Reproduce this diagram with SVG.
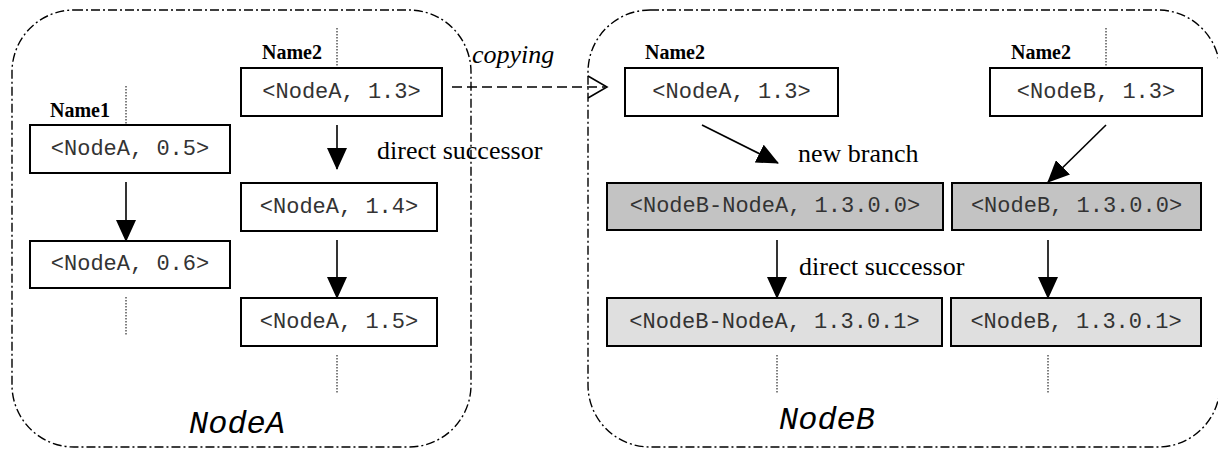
<svg xmlns="http://www.w3.org/2000/svg" width="1218" height="450" viewBox="0 0 1218 450">
<style>
.cont{fill:none;stroke:#000;stroke-width:1.4;stroke-dasharray:9 3 2 3}
.box{fill:#fff;stroke:#000;stroke-width:2}
.g1{fill:#c3c3c3;stroke:#000;stroke-width:2}
.g2{fill:#dfdfdf;stroke:#000;stroke-width:2}
.mono{font-family:"Liberation Mono","Courier New",monospace;font-size:22px;fill:#333;text-anchor:middle}
.name{font-family:"Liberation Serif","Times New Roman",serif;font-weight:bold;font-size:20px;fill:#000}
.lbl{font-family:"Liberation Serif","Times New Roman",serif;font-size:26px;fill:#000}
.big{font-family:"Liberation Mono","Courier New",monospace;font-style:italic;font-size:32px;fill:#000}
.arr{stroke:#000;stroke-width:1.6;fill:none;marker-end:url(#ah)}
.dot{stroke:#000;stroke-width:1;stroke-dasharray:1.5 1.5;fill:none}
.dash{stroke:#000;stroke-width:1.6;stroke-dasharray:10 5;fill:none}
</style>
<defs>
<marker id="ah" markerUnits="userSpaceOnUse" markerWidth="22" markerHeight="20" viewBox="0 0 22 20" refX="21" refY="10" orient="auto">
<path d="M0,0 L22,10 L0,20 z" fill="#000"/>
</marker>
</defs>
<g id="NodeA">
<rect class="cont" x="12" y="10" width="459" height="437" rx="62" ry="62"/>
<text class="big" x="189" y="433">NodeA</text>
</g>
<g id="NodeB">
<rect class="cont" x="588" y="10" width="632" height="437" rx="62" ry="62"/>
<text class="big" x="779" y="429">NodeB</text>
</g>
<g id="name1"><text class="name" x="50" y="117">Name1</text></g>
<g id="name2a"><text class="name" x="262" y="59">Name2</text></g>
<g id="name2b"><text class="name" x="645" y="59">Name2</text></g>
<g id="name2c"><text class="name" x="1011" y="59">Name2</text></g>
<g id="A05"><rect class="box" x="30" y="125" width="200" height="48"/><text class="mono" x="130" y="155">&lt;NodeA, 0.5&gt;</text></g>
<g id="A06"><rect class="box" x="30" y="241" width="200" height="47"/><text class="mono" x="130" y="270">&lt;NodeA, 0.6&gt;</text></g>
<g id="A13"><rect class="box" x="241" y="68" width="201" height="48"/><text class="mono" x="341.5" y="98">&lt;NodeA, 1.3&gt;</text></g>
<g id="A14"><rect class="box" x="241" y="183" width="196" height="48"/><text class="mono" x="339" y="213">&lt;NodeA, 1.4&gt;</text></g>
<g id="A15"><rect class="box" x="241" y="298" width="196" height="48"/><text class="mono" x="339" y="328">&lt;NodeA, 1.5&gt;</text></g>
<g id="RA13"><rect class="box" x="625" y="68" width="213" height="48"/><text class="mono" x="731.5" y="98">&lt;NodeA, 1.3&gt;</text></g>
<g id="RB13"><rect class="box" x="990" y="68" width="212" height="48"/><text class="mono" x="1096" y="98">&lt;NodeB, 1.3&gt;</text></g>
<g id="BA1300"><rect class="g1" x="607" y="183" width="336" height="47"/><text class="mono" x="775" y="212">&lt;NodeB-NodeA, 1.3.0.0&gt;</text></g>
<g id="B1300"><rect class="g1" x="952" y="183" width="249" height="47"/><text class="mono" x="1076.5" y="212">&lt;NodeB, 1.3.0.0&gt;</text></g>
<g id="BA1301"><rect class="g2" x="607" y="298" width="335" height="48"/><text class="mono" x="774.5" y="328">&lt;NodeB-NodeA, 1.3.0.1&gt;</text></g>
<g id="B1301"><rect class="g2" x="951" y="298" width="250" height="48"/><text class="mono" x="1076" y="328">&lt;NodeB, 1.3.0.1&gt;</text></g>
<g id="connectors">
<line class="dot" x1="126" y1="86" x2="126" y2="125"/>
<line class="dot" x1="337" y1="28" x2="337" y2="68"/>
<line class="dot" x1="1106" y1="28" x2="1106" y2="68"/>
<line class="dot" x1="126" y1="297" x2="126" y2="335"/>
<line class="dot" x1="337" y1="355" x2="337" y2="393"/>
<line class="dot" x1="777" y1="355" x2="777" y2="393"/>
<line class="dot" x1="1048" y1="355" x2="1048" y2="393"/>
<line class="arr" x1="126" y1="182" x2="126" y2="241"/>
<line class="arr" x1="337" y1="125" x2="337" y2="169"/>
<line class="arr" x1="337" y1="240" x2="337" y2="298"/>
<line class="arr" x1="702" y1="125" x2="778" y2="163"/>
<line class="arr" x1="1106" y1="125" x2="1048" y2="182"/>
<line class="arr" x1="777" y1="240" x2="777" y2="298"/>
<line class="arr" x1="1048" y1="240" x2="1048" y2="298"/>
<line class="dash" x1="452" y1="87" x2="605" y2="87"/>
<path d="M588,76 L607,87 L588,98" fill="none" stroke="#000" stroke-width="1.6"/>
<text class="lbl" x="472" y="63" font-style="italic">copying</text>
<text class="lbl" x="377" y="159">direct successor</text>
<text class="lbl" x="798" y="162">new branch</text>
<text class="lbl" x="799" y="275">direct successor</text>
</g>
</svg>
